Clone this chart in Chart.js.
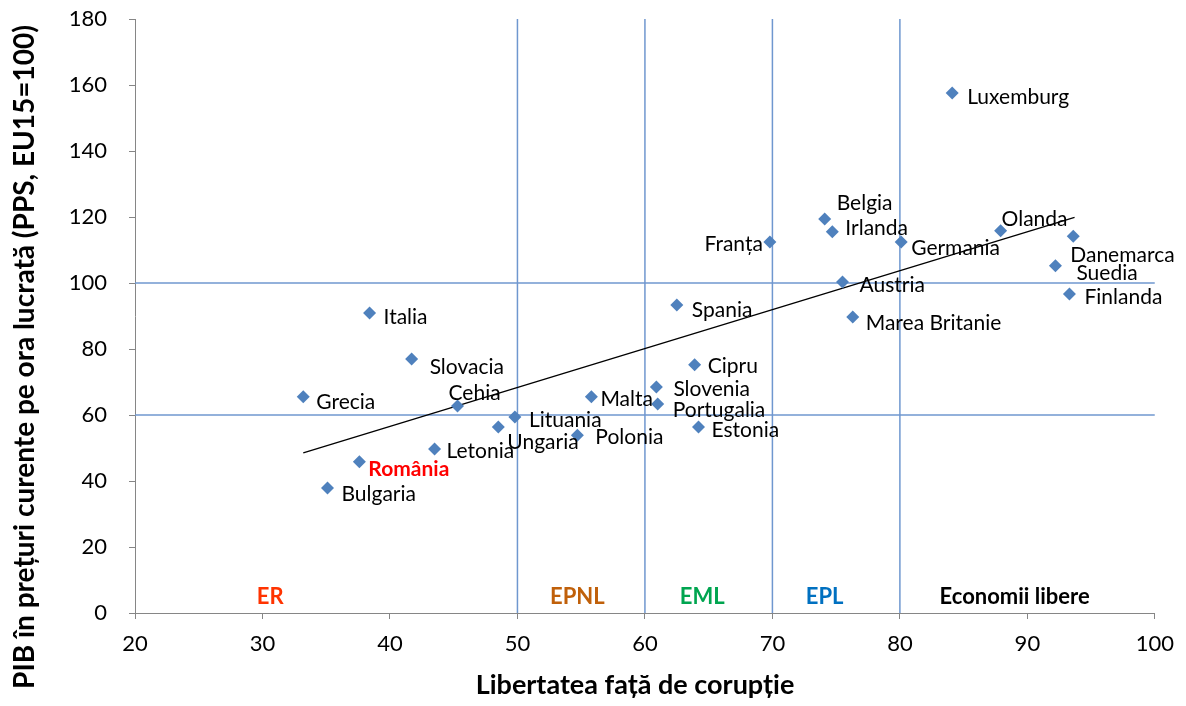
<!DOCTYPE html>
<html>
<head>
<meta charset="utf-8">
<script src="https://cdn.jsdelivr.net/npm/chart.js@4"></script>
<style>
  body { margin: 0; background: #fff; }
  #wrap { width: 1186px; height: 706px; }
</style>
</head>
<body>
<div id="wrap"><canvas id="chart"></canvas></div>
<script>
// data
const countries = ['Luxemburg', 'Belgia', 'Irlanda', 'Franța', 'Germania', 'Olanda', 'Danemarca', 'Suedia',
    'Finlanda', 'Austria', 'Marea Britanie', 'Spania', 'Cipru', 'Slovenia', 'Portugalia', 'Malta', 'Estonia',
    'Polonia', 'Lituania', 'Ungaria', 'Letonia', 'Cehia', 'România', 'Bulgaria', 'Grecia', 'Italia', 'Slovacia'];
const corruption = [84.1, 74.1, 74.7, 69.8, 80.1, 87.9, 93.6, 92.2, 93.3, 75.5, 76.3, 62.5, 63.9, 60.9, 61.0,
    55.8, 64.2, 54.7, 49.8, 48.5, 43.5, 45.3, 37.6, 35.1, 33.2, 38.4, 41.7];
const gdpPerHour = [157.6, 119.4, 115.5, 112.4, 112.4, 115.8, 114.2, 105.2, 96.7, 100.3, 89.7, 93.3, 75.2, 68.5,
    63.3, 65.5, 56.4, 53.9, 59.4, 56.4, 49.7, 62.7, 45.8, 37.9, 65.5, 90.9, 77.0];

const trendX = [33.2, 93.7];
const trendY = [48.5, 119.9];

const regimeBounds = [50, 60, 70, 80];
const incomeLines = [60, 100];
const regimeNames = ['ER', 'EPNL', 'EML', 'EPL', 'Economii libere'];
const regimeColors = ['#ff3300', '#c0600a', '#00a550', '#0070c0', '#000000'];

const xTitle = 'Libertatea față de corupție';
const yTitle = 'PIB în prețuri curente pe ora lucrată (PPS, EU15=100)';

// where each label sits relative to its point (px) and how it is aligned
const labelPlacement = {
    'Luxemburg': [15, 4, 'left'], 'Belgia': [12, -16, 'left'], 'Irlanda': [13, -4, 'left'],
    'Franța': [-7, 2, 'right'], 'Germania': [10, 6, 'left'], 'Olanda': [1, -12, 'left'],
    'Danemarca': [-3, 19, 'left'], 'Suedia': [21, 7, 'left'], 'Finlanda': [15, 3, 'left'],
    'Austria': [17, 3, 'left'], 'Marea Britanie': [13, 6, 'left'], 'Spania': [15, 5, 'left'],
    'Cipru': [13, 1, 'left'], 'Slovenia': [17, 2, 'left'], 'Portugalia': [15, 6, 'left'],
    'Malta': [9, 2, 'left'], 'Estonia': [13, 3, 'left'], 'Polonia': [18, 2, 'left'],
    'Lituania': [14, 3, 'left'], 'Ungaria': [9, 15, 'left'], 'Letonia': [12, 2, 'left'],
    'Cehia': [-9, -13, 'left'], 'România': [9, 7, 'left'], 'Bulgaria': [14, 6, 'left'],
    'Grecia': [13, 5, 'left'], 'Italia': [14, 4, 'left'], 'Slovacia': [18, 8, 'left']
};
const regimeLabelX = [30.6, 54.7, 64.5, 74.1, 89.0];
const regimeLabelY = 4.8;

const FONT = 'Lato, "Open Sans", sans-serif';
const refColor = '#6f97cf';

const datasets = [{
    label: 'Țări',
    data: countries.map((c, i) => ({ x: corruption[i], y: gdpPerHour[i] })),
    pointStyle: 'rectRot',
    pointRadius: 6.5,
    pointHoverRadius: 6.5,
    backgroundColor: '#4f81bd',
    borderColor: '#4f81bd',
    borderWidth: 0
}, {
    label: 'Trend',
    data: trendX.map((x, i) => ({ x: x, y: trendY[i] })),
    showLine: true,
    pointRadius: 0,
    borderColor: '#000',
    borderWidth: 1.3
}];

regimeBounds.forEach(b => {
    datasets.push({
        data: [{ x: b, y: 0 }, { x: b, y: 180 }],
        showLine: true, pointRadius: 0, borderColor: refColor, borderWidth: 1.5
    });
});
incomeLines.forEach(v => {
    datasets.push({
        data: [{ x: 20, y: v }, { x: 100, y: v }],
        showLine: true, pointRadius: 0, borderColor: refColor, borderWidth: 1.5
    });
});

const pointLabels = {
    id: 'pointLabels',
    afterDatasetsDraw(chart) {
        const ctx = chart.ctx;
        const meta = chart.getDatasetMeta(0);
        ctx.save();
        ctx.textBaseline = 'middle';
        meta.data.forEach((el, i) => {
            const name = countries[i];
            const p = labelPlacement[name] || [12, 3, 'left'];
            const isRo = name === 'România';
            ctx.font = (isRo ? 'bold ' : '') + '21px ' + FONT;
            ctx.fillStyle = isRo ? '#ff0000' : '#000';
            ctx.textAlign = p[2];
            ctx.fillText(name, el.x + p[0], el.y + p[1]);
        });

        // regime names at the bottom of the plot
        const xs = chart.scales.x, ys = chart.scales.y;
        ctx.font = 'bold 22px ' + FONT;
        ctx.textAlign = 'center';
        regimeNames.forEach((n, i) => {
            ctx.fillStyle = regimeColors[i];
            ctx.fillText(n, xs.getPixelForValue(regimeLabelX[i]), ys.getPixelForValue(regimeLabelY));
        });
        ctx.restore();
    },
    afterDraw(chart) {
        // axis titles, placed like in the original (not centred on the plot area)
        const ctx = chart.ctx;
        ctx.save();
        ctx.fillStyle = '#000';
        ctx.textAlign = 'center';
        ctx.textBaseline = 'middle';
        ctx.font = 'bold 27px ' + FONT;
        ctx.fillText(xTitle, 635, 685);
        ctx.translate(25, 357);
        ctx.rotate(-Math.PI / 2);
        ctx.font = 'bold 28px ' + FONT;
        ctx.fillText(yTitle, 0, 0);
        ctx.restore();
    }
};

new Chart(document.getElementById('chart'), {
    type: 'scatter',
    data: { datasets: datasets },
    options: {
        responsive: true,
        maintainAspectRatio: false,
        animation: false,
        layout: { padding: { top: 19, right: 31, left: 0, bottom: 0 } },
        plugins: { legend: { display: false }, tooltip: { enabled: false } },
        scales: {
            x: {
                type: 'linear',
                min: 20, max: 100,
                afterFit: s => { s.height = 93; },
                border: { color: '#868686', width: 1 },
                grid: { drawOnChartArea: false, color: '#868686', tickLength: 6 },
                ticks: { stepSize: 10, color: '#000', padding: 12, font: { family: FONT, size: 22 } }
            },
            y: {
                type: 'linear',
                min: 0, max: 180,
                afterFit: s => { s.width = 135; s.paddingTop = 0; s.paddingBottom = 0; },
                border: { color: '#868686', width: 1 },
                grid: { drawOnChartArea: false, color: '#868686', tickLength: 6 },
                ticks: { stepSize: 20, color: '#000', padding: 22, font: { family: FONT, size: 22 } }
            }
        }
    },
    plugins: [pointLabels]
});
</script>
</body>
</html>
